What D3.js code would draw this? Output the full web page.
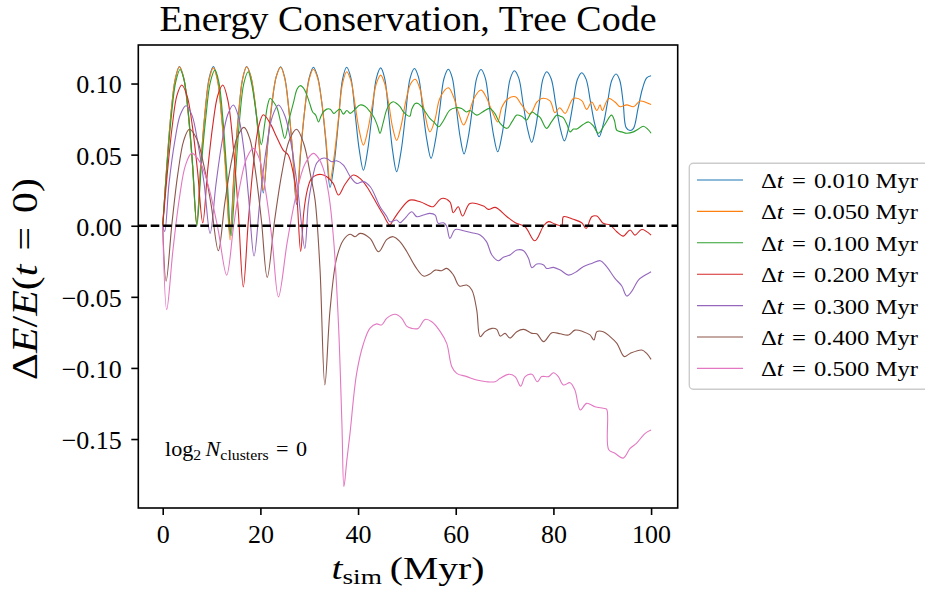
<!DOCTYPE html>
<html>
<head>
<meta charset="utf-8">
<script src="https://cdn.jsdelivr.net/npm/d3@7"></script>
<style>
  body { margin: 0; background: #fff; }
  svg text { font-family: "Liberation Serif", "DejaVu Serif", serif; fill: #000; }
</style>
</head>
<body>
<div id="chart"></div>
<script>
// tick values
var xTicks = [0, 20, 40, 60, 80, 100];
var yTicks = [-0.15, -0.10, -0.05, 0.00, 0.05, 0.10];

// legend labels (time step in Myr)
var stepLabels = ["0.010", "0.050", "0.100", "0.200", "0.300", "0.400", "0.500"];
var colors = ["#1f77b4", "#ff7f0e", "#2ca02c", "#d62728", "#9467bd", "#8c564b", "#e377c2"];

// [t_sim (Myr), dE/E]
var dt010 = [
  [0,0],[0.85,0.043],[1.7,0.079],[2.56,0.103],[3.41,0.112],[4.3,0.104],[5.19,0.080],[6.07,0.044],[6.96,0.002],
  [7.81,0.044],[8.67,0.080],[9.52,0.104],[10.37,0.112],[11.22,0.103],[12.07,0.077],[12.93,0.039],[13.78,-0.006],
  [14.63,0.039],[15.49,0.077],[16.34,0.103],[17.19,0.112],[18.04,0.105],[18.9,0.086],[19.75,0.057],[20.6,0.023],
  [21.49,0.057],[22.38,0.086],[23.26,0.105],[24.15,0.1118],[24.96,0.1045],[25.78,0.0835],[26.59,0.052],[27.4,0.015],
  [28.26,0.052],[29.13,0.083],[29.99,0.104],[30.85,0.1115],[31.7,0.105],[32.56,0.087],[33.41,0.059],[34.26,0.027],
  [35.11,0.044],[35.97,0.073],[36.82,0.103],[37.67,0.1114],[38.53,0.104],[39.39,0.079],[40.24,0.0535],[41.1,0.039],
  [41.98,0.0534],[42.87,0.0786],[43.75,0.1038],[44.63,0.111],[45.45,0.1037],[46.27,0.0782],[47.08,0.0526],[47.9,0.038],
  [48.81,0.0525],[49.72,0.078],[50.62,0.1033],[51.53,0.1106],[52.39,0.1043],[53.24,0.0822],[54.1,0.060],[54.95,0.0474],
  [55.84,0.060],[56.72,0.0818],[57.61,0.1037],[58.49,0.110],[59.29,0.104],[60.1,0.0832],[60.9,0.0624],[61.7,0.0505],
  [62.57,0.0624],[63.44,0.0832],[64.31,0.104],[65.18,0.1099],[66.04,0.104],[66.89,0.0838],[67.75,0.0636],[68.6,0.052],
  [69.45,0.0634],[70.3,0.0834],[71.15,0.1033],[72.0,0.109],[72.89,0.104],[73.78,0.0863],[74.67,0.0687],[75.56,0.0586],
  [76.33,0.0685],[77.1,0.0859],[77.86,0.1033],[78.63,0.1083],[79.54,0.1034],[80.44,0.0864],[81.35,0.0694],[82.25,0.0597],
  [83.14,0.0693],[84.03,0.086],[84.91,0.1028],[85.8,0.1076],[86.69,0.1031],[87.58,0.0874],[88.46,0.0716],[89.35,0.0626],
  [90.22,0.0714],[91.09,0.0869],[91.96,0.1023],[92.83,0.1067],[93.55,0.1027],[94.27,0.087],[94.9,0.069],[95.7,0.067],[96.4,0.0685],
  [97.3,0.082],[98.2,0.096],[99.1,0.104],[100,0.1055]
];
var dt050 = [
  [0,0],[0.85,0.043],[1.7,0.079],[2.56,0.103],[3.41,0.1118],[4.3,0.104],[5.19,0.080],[6.07,0.044],[6.96,0.001],
  [7.81,0.044],[8.67,0.080],[9.52,0.103],[10.37,0.111],[11.22,0.102],[12.07,0.076],[12.93,0.036],[13.8,-0.010],
  [14.63,0.037],[15.49,0.076],[16.34,0.103],[17.19,0.1118],[18.04,0.105],[18.9,0.087],[19.75,0.058],[20.6,0.025],
  [21.49,0.058],[22.38,0.087],[23.26,0.105],[24.15,0.1115],[24.96,0.104],[25.78,0.083],[26.59,0.053],[27.4,0.018],
  [28.26,0.054],[29.13,0.083],[29.99,0.103],[30.85,0.110],[31.7,0.104],[32.56,0.087],[33.41,0.061],[34.26,0.032],
  [35.11,0.049],[35.97,0.075],[36.82,0.100],[37.67,0.1083],[38.53,0.102],[39.39,0.085],[40.24,0.067],[41.1,0.0567],
  [41.98,0.067],[42.87,0.084],[43.75,0.100],[44.63,0.1059],[45.45,0.100],[46.27,0.086],[47.08,0.069],[47.9,0.060],
  [48.8,0.070],[49.8,0.088],[50.8,0.100],[51.7,0.103],[52.6,0.097],[53.5,0.082],[54.7,0.066],
  [55.7,0.074],[56.8,0.090],[58.5,0.097],[59.5,0.091],[60.6,0.079],[61.6,0.0708],
  [62.6,0.078],[63.8,0.090],[65.2,0.0954],[66.3,0.090],[67.5,0.080],[68.6,0.073],
  [69.4,0.083],[70.5,0.0888],[72.2,0.0907],[73.5,0.085],[75.2,0.0785],[76.6,0.087],[77.6,0.0895],[79.3,0.0878],
  [80.3,0.0795],[81.3,0.083],[82.4,0.079],[84.1,0.0895],[85.8,0.088],[86.8,0.0818],[87.85,0.087],[88.9,0.081],
  [89.55,0.085],[90.0,0.081],[91.3,0.0895],[92.6,0.087],[93.65,0.0837],[95.0,0.085],[96.4,0.0837],[97.75,0.0877],
  [99.1,0.0865],[100,0.0853]
];
var dt100 = [
  [0,0],[0.88,0.042],[1.77,0.077],[2.66,0.101],[3.55,0.1099],[4.4,0.102],[5.3,0.078],[6.15,0.042],[7.0,0.000],
  [7.9,0.042],[8.85,0.077],[9.75,0.101],[10.7,0.1095],[11.5,0.101],[12.3,0.076],[13.15,0.036],[14.0,-0.007],
  [14.9,0.036],[15.75,0.075],[16.6,0.100],[17.5,0.1083],[18.2,0.100],[18.9,0.085],[19.6,0.068],[20.2,0.057],
  [20.9,0.072],[21.5,0.085],[22.0,0.0896],[22.7,0.087],[23.4,0.083],[24.2,0.072],[25.0,0.0614],[25.9,0.075],
  [26.8,0.087],[27.5,0.096],[28.1,0.0985],[28.8,0.097],[29.5,0.092],[30.1,0.086],[30.7,0.080],[31.3,0.078],
  [31.9,0.073],[32.4,0.077],[32.9,0.080],[33.6,0.082],[34.3,0.082],[35.0,0.079],[35.6,0.0804],[36.3,0.082],
  [37.0,0.0785],[37.7,0.081],[38.4,0.079],[39.4,0.082],[40.4,0.0849],[41.4,0.084],[42.5,0.080],[43.3,0.076],
  [44.0,0.070],[44.5,0.065],[45.1,0.072],[45.9,0.082],[46.6,0.086],[47.2,0.0872],[47.9,0.086],[48.6,0.0837],
  [49.3,0.080],[50.0,0.0778],[50.6,0.077],[51.0,0.082],[51.7,0.086],[52.3,0.086],[53.0,0.0837],[53.8,0.080],
  [54.7,0.0755],[55.5,0.073],[56.5,0.0696],[57.5,0.074],[58.8,0.0813],[60.0,0.083],[61.2,0.0825],[62.2,0.080],
  [62.9,0.081],[64.3,0.0778],[65.5,0.080],[67.0,0.0825],[68.0,0.079],[69.1,0.072],[70.5,0.0685],[71.5,0.073],
  [72.5,0.0778],[73.5,0.077],[74.5,0.0743],[75.6,0.080],[76.5,0.078],[77.3,0.076],[78.6,0.0685],[79.6,0.073],
  [80.7,0.0778],[81.4,0.077],[82.0,0.076],[82.8,0.071],[83.4,0.066],[84.1,0.068],[84.8,0.068],[86.0,0.071],
  [87.2,0.073],[88.2,0.070],[89.2,0.065],[90.5,0.071],[91.9,0.0778],[92.5,0.074],[93.0,0.067],[94.0,0.066],
  [95.0,0.065],[96.4,0.066],[97.4,0.068],[98.4,0.070],[99.3,0.068],[100,0.065]
];
var dt200 = [
  [0,0],[0.97,0.038],[1.95,0.070],[2.9,0.0915],[3.9,0.099],[4.98,0.0915],[6.05,0.0706],[7.12,0.0389],[8.2,0.002],
  [9.2,0.039],[10.25,0.0706],[11.27,0.0916],[12.3,0.099],[13.35,0.088],[14.4,0.0575],[15.45,0.0114],[16.5,-0.043],
  [17.53,0.0033],[18.55,0.0425],[19.58,0.0688],[20.6,0.078],[22.0,0.072],[23.3,0.0626],[24.7,0.053],[25.7,0.0497],
  [26.75,0.0368],[27.4,0.023],[28.25,-0.018],[28.9,0.010],[29.6,0.025],[30.4,0.033],[31.5,0.0357],[32.5,0.036],
  [33.6,0.0345],[34.9,0.0298],[36.0,0.0216],[37.3,0.029],[39.0,0.0357],[40.4,0.0333],[41.8,0.0274],[43.8,0.0157],
  [45.2,0.0075],[46.5,0.0005],[47.2,0.004],[48.6,0.011],[50.6,0.018],[52.7,0.0168],[54.7,0.0138],[55.4,0.0134],
  [57.1,0.0192],[58.8,0.0168],[59.5,0.0091],[60.5,0.0134],[61.4,0.0068],[62.9,0.0157],[65.7,0.0138],[66.7,0.0115],
  [68.1,0.0129],[70.5,0.0063],[72.2,0.0021],[74.2,-0.0007],[76.2,-0.0106],[78.0,0.0],[79.0,0.0029],[80.3,0.0012],
  [81.7,0.0],[82.05,0.0063],[84.1,0.0045],[85.8,0.0021],[86.7,-0.0019],[87.85,0.0063],[88.9,0.0068],[90.2,0.0017],
  [91.6,0.0005],[92.97,-0.0042],[94.3,-0.0073],[95.7,-0.0030],[96.7,-0.0066],[98.1,-0.0026],[100,-0.0066]
];
var dt300 = [
  [0,0],[0.4,-0.004],[1.3,0.030],[2.5,0.060],[3.6,0.078],[4.77,0.0844],[6.0,0.0776],[7.2,0.058],[8.5,0.029],[9.7,-0.0054],
  [10.9,0.029],[12.1,0.058],[13.3,0.078],[14.47,0.0849],[15.5,0.0768],[16.6,0.054],[17.6,0.0193],[18.7,-0.0213],
  [19.95,0.0194],[21.2,0.054],[22.45,0.0768],[23.7,0.0849],[25.05,0.077],[26.4,0.0554],[27.75,0.0227],[29.1,-0.016],
  [29.8,0.015],[30.5,0.030],[31.5,0.0439],[32.55,0.0473],[33.6,0.0473],[34.6,0.045],[35.6,0.0457],[37.0,0.0427],
  [38.4,0.0345],[39.7,0.0298],[41.1,0.031],[42.5,0.0274],[44.5,0.0134],[45.9,0.0063],[46.5,0.0028],[47.9,0.004],
  [48.6,0.0021],[49.6,0.0052],[51.0,0.0098],[52.0,0.0064],[53.4,0.0075],[54.7,0.0087],[55.8,0.0075],[56.4,0.0017],
  [57.5,0.0021],[58.1,0.0],[58.8,-0.0089],[59.9,-0.0026],[61.6,-0.0035],[63.3,-0.0049],[65.0,-0.0065],[66.3,-0.0112],
  [67.4,-0.0206],[68.7,-0.0246],[69.75,-0.0222],[71.1,-0.0206],[72.5,-0.0171],[73.9,-0.0176],[74.9,-0.0229],
  [75.6,-0.0295],[76.6,-0.0269],[78.0,-0.0276],[78.6,-0.030],[80.0,-0.0293],[81.4,-0.0312],[83.1,-0.0347],
  [84.7,-0.0323],[86.1,-0.0288],[87.85,-0.0265],[89.6,-0.0246],[90.9,-0.0288],[92.6,-0.037],[94.0,-0.0424],
  [95.0,-0.0494],[96.0,-0.0464],[97.4,-0.0382],[98.8,-0.0347],[100,-0.0323]
];
var dt400 = [
  [0,0],[0.7,-0.039],[1.9,0.002],[3.1,0.0367],[4.3,0.0599],[5.45,0.0678],[6.94,0.0613],[8.4,0.0428],[9.9,0.015],[11.39,-0.0176],
  [12.7,0.0156],[14.0,0.0438],[15.3,0.0626],[16.65,0.0692],[17.84,0.0612],[19.0,0.038],[20.2,0.004],[21.4,-0.0363],
  [22.9,0.0035],[24.4,0.037],[25.9,0.0599],[27.4,0.0678],[28.85,0.058],[30.3,0.035],[31.2,0.018],[32.2,-0.030],[33.2,-0.112],
  [34.26,-0.0593],[35.6,-0.023],[37.0,-0.010],[38.35,-0.006],[39.4,-0.0077],[40.4,-0.0054],[42.45,-0.0089],[44.2,-0.0183],
  [45.9,-0.0096],[47.2,-0.0077],[48.6,-0.0113],[50.0,-0.0183],[51.7,-0.0286],[53.4,-0.0354],[54.7,-0.034],[55.8,-0.0312],
  [57.1,-0.0316],[58.15,-0.030],[59.5,-0.0345],[60.75,-0.0424],[62.25,-0.0417],[63.3,-0.0452],[64.3,-0.0593],[65.0,-0.078],
  [66.0,-0.0745],[67.4,-0.0722],[68.4,-0.0729],[69.1,-0.0776],[70.1,-0.0757],[71.1,-0.079],[72.5,-0.0745],[73.9,-0.0729],
  [75.6,-0.0757],[76.6,-0.076],[78.0,-0.0815],[79.7,-0.0752],[81.4,-0.076],[83.1,-0.0768],[84.4,-0.0734],[86.1,-0.0745],
  [87.5,-0.0768],[88.3,-0.0804],[88.9,-0.0745],[90.2,-0.0745],[91.6,-0.078],[93.0,-0.0827],[94.5,-0.092],[95.7,-0.0898],
  [98.1,-0.0874],[99.1,-0.0898],[100,-0.094]
];
var dt500 = [
  [0,0],[0.82,-0.059],[2.1,-0.017],[3.4,0.019],[4.65,0.0424],[5.93,0.0509],[7.7,0.0444],[9.5,0.026],[11.3,-0.002],[13.1,-0.0347],
  [14.5,-0.0006],[15.8,0.028],[17.2,0.0476],[18.56,0.0544],[19.85,0.0465],[21.1,0.0238],[22.4,-0.010],[23.7,-0.050],
  [25.5,-0.0114],[27.3,0.0213],[29.1,0.0432],[30.85,0.0509],[32.0,0.047],[32.9,0.040],[34.0,0.022],[35.0,-0.010],
  [36.0,-0.070],[36.7,-0.140],[37.1,-0.1836],[37.7,-0.165],[38.35,-0.146],[39.7,-0.104],[41.1,-0.083],[42.45,-0.072],
  [43.8,-0.069],[44.8,-0.0698],[45.9,-0.065],[47.6,-0.0623],[48.9,-0.065],[50.0,-0.0708],[51.0,-0.0722],[52.3,-0.0722],
  [53.7,-0.0659],[55.1,-0.0675],[56.8,-0.0743],[58.15,-0.0827],[59.2,-0.0991],[60.2,-0.1038],[62.25,-0.1061],
  [64.3,-0.1085],[66.3,-0.1097],[68.05,-0.1097],[69.1,-0.1073],[70.8,-0.1045],[72.15,-0.1061],[73.3,-0.1128],
  [74.2,-0.1061],[75.6,-0.1045],[76.7,-0.1097],[77.6,-0.1061],[79.0,-0.1061],[80.0,-0.1034],[81.0,-0.1061],
  [82.05,-0.112],[83.4,-0.1104],[84.4,-0.1155],[85.5,-0.1296],[86.8,-0.1249],[88.5,-0.1273],[90.2,-0.1284],
  [90.9,-0.129],[91.3,-0.1573],[92.6,-0.160],[94.3,-0.1634],[95.7,-0.1566],[97.0,-0.153],[98.8,-0.146],[100,-0.1437]
];
var allSeries = [dt010, dt050, dt100, dt200, dt300, dt400, dt500];

function init() {
  var w = 925;
  var h = 589;
  var left = 138.3, right = 677.7, top = 45, bottom = 508;

  var x = d3.scaleLinear().domain([-5, 105.45]).range([left, right]);
  var y = d3.scaleLinear().domain([-0.1985, 0.1271]).range([bottom, top]);

  var svg = d3.select("#chart")
      .append("svg")
      .attr("width", w)
      .attr("height", h);

  svg.append("rect").attr("width", w).attr("height", h).attr("fill", "#fff");

  var line = d3.line()
      .x(function(d) { return x(d[0]); })
      .y(function(d) { return y(d[1]); })
      .curve(d3.curveCatmullRom.alpha(0.5));

  // data lines, first series at the bottom
  svg.append("g")
    .selectAll("path")
    .data(allSeries)
    .enter()
    .append("path")
    .attr("d", line)
    .attr("fill", "none")
    .attr("stroke", function(d, i) { return colors[i]; })
    .attr("stroke-width", 1.1)
    .attr("stroke-linejoin", "round");

  // zero line
  svg.append("line")
    .attr("x1", left).attr("x2", right)
    .attr("y1", y(0)).attr("y2", y(0))
    .attr("stroke", "#000")
    .attr("stroke-width", 2.4)
    .attr("stroke-dasharray", "8.6,3.8");

  // frame
  svg.append("rect")
    .attr("x", left).attr("y", top)
    .attr("width", right - left).attr("height", bottom - top)
    .attr("fill", "none")
    .attr("stroke", "#000")
    .attr("stroke-width", 1.6);

  // x axis
  var xAxis = svg.append("g")
    .attr("transform", "translate(0," + bottom + ")")
    .call(d3.axisBottom(x).tickValues(xTicks).tickSize(7).tickFormat(d3.format("d")));
  xAxis.select(".domain").remove();
  xAxis.selectAll(".tick line").attr("stroke", "#000").attr("stroke-width", 1.6);
  xAxis.selectAll(".tick text")
    .attr("y", 34.5).attr("dy", null)
    .style("font-size", "26px")
    .style("font-family", "Liberation Serif, serif");

  // y axis
  var yAxis = svg.append("g")
    .attr("transform", "translate(" + left + ",0)")
    .call(d3.axisLeft(y).tickValues(yTicks).tickSize(7)
      .tickFormat(function(d) { return d3.format(".2f")(d).replace("-", "\u2212"); }));
  yAxis.select(".domain").remove();
  yAxis.selectAll(".tick line").attr("stroke", "#000").attr("stroke-width", 1.6);
  yAxis.selectAll(".tick text")
    .attr("x", -16.5).attr("dy", "0.36em")
    .style("font-size", "26px")
    .style("font-family", "Liberation Serif, serif");

  // title
  svg.append("text")
    .attr("x", (left + right) / 2)
    .attr("y", 31)
    .attr("text-anchor", "middle")
    .attr("textLength", 497)
    .attr("lengthAdjust", "spacingAndGlyphs")
    .style("font-size", "35px")
    .text("Energy Conservation, Tree Code");

  // x label
  var xl = svg.append("text")
    .attr("x", (left + right) / 2)
    .attr("y", 579)
    .attr("text-anchor", "middle")
    .attr("textLength", 153)
    .attr("lengthAdjust", "spacingAndGlyphs")
    .style("font-size", "32px");
  xl.append("tspan").style("font-style", "italic").text("t");
  xl.append("tspan").attr("dy", 5).style("font-size", "22px").text("sim");
  xl.append("tspan").attr("dy", -5).text("\u2009(Myr)");

  // y label
  var yl = svg.append("text")
    .attr("transform", "translate(36.5," + 279 + ") rotate(-90)")
    .attr("text-anchor", "middle")
    .attr("textLength", 202)
    .attr("lengthAdjust", "spacingAndGlyphs")
    .style("font-size", "35px");
  yl.append("tspan").text("\u0394");
  yl.append("tspan").style("font-style", "italic").text("E");
  yl.append("tspan").text("/");
  yl.append("tspan").style("font-style", "italic").text("E");
  yl.append("tspan").text("(");
  yl.append("tspan").style("font-style", "italic").text("t");
  yl.append("tspan").text("\u2004=\u20040)");

  // annotation
  var ann = svg.append("text")
    .attr("x", 165)
    .attr("y", 456)
    .attr("textLength", 142)
    .attr("lengthAdjust", "spacingAndGlyphs")
    .style("font-size", "21px");
  ann.append("tspan").text("log");
  ann.append("tspan").attr("dy", 4).style("font-size", "15px").text("2");
  ann.append("tspan").attr("dy", -4).style("font-style", "italic").text("\u2009N");
  ann.append("tspan").attr("dy", 4).style("font-size", "15px").text("clusters");
  ann.append("tspan").attr("dy", -4).text("\u2004=\u20040");

  // legend
  var lg = svg.append("g");
  lg.append("rect")
    .attr("x", 689.3).attr("y", 163.3)
    .attr("width", 250).attr("height", 226)
    .attr("rx", 4)
    .attr("fill", "#fff")
    .attr("fill-opacity", 0.8)
    .attr("stroke", "#cccccc")
    .attr("stroke-width", 1.4);

  var rows = lg.selectAll("g.row")
    .data(stepLabels)
    .enter()
    .append("g")
    .attr("class", "row")
    .attr("transform", function(d, i) { return "translate(0," + (180 + i * 31.4) + ")"; });

  rows.append("line")
    .attr("x1", 697).attr("x2", 743)
    .attr("stroke", function(d, i) { return colors[i]; })
    .attr("stroke-width", 1.1);

  var lt = rows.append("text")
    .attr("x", 761)
    .attr("dy", "0.36em")
    .attr("textLength", 157)
    .attr("lengthAdjust", "spacingAndGlyphs")
    .style("font-size", "22px");
  lt.append("tspan").text("\u0394");
  lt.append("tspan").style("font-style", "italic").text("t");
  lt.append("tspan").text(function(d) { return "\u2004=\u2004" + d + " Myr"; });
}

window.onload = init;
</script>
</body>
</html>
